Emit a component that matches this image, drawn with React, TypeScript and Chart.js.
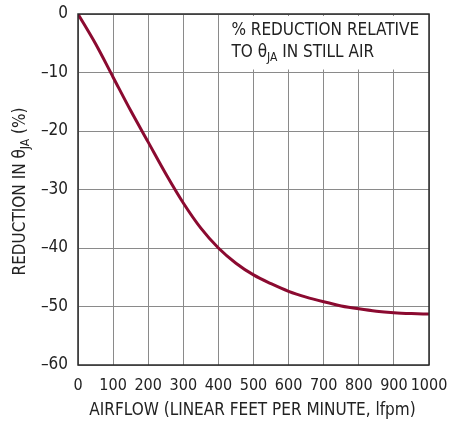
import React, { useEffect, useRef } from "react";
import { Chart, registerables } from "chart.js";

Chart.register(...registerables);

const airflow = [0, 50, 100, 150, 200, 250, 300, 350, 400, 450, 500, 550, 600, 650, 700, 750, 800, 850, 900, 950, 1000];
const reduction = [0, -5.1, -10.8, -16.5, -21.9, -27.3, -32.3, -36.6, -40.0, -42.6, -44.6, -46.1, -47.4, -48.4, -49.2, -49.9, -50.4, -50.8, -51.05, -51.2, -51.3];

const xTicks = [0, 100, 200, 300, 400, 500, 600, 700, 800, 900, 1000];
const yTicks = [0, -10, -20, -30, -40, -50, -60];

const xTitle = "AIRFLOW (LINEAR FEET PER MINUTE, lfpm)";
const yTitleParts = ["REDUCTION IN θ", "JA", " (%)"];
const noteLine1 = "% REDUCTION RELATIVE";
const noteLine2Parts = ["TO θ", "JA", " IN STILL AIR"];

const FONT = "'Liberation Sans Narrow', 'DejaVu Sans Condensed', 'Liberation Sans', sans-serif";
const FS = 17;
const TICK_FS = 16;
const CURVE = "#8b0a30";
const GRID = "#8a8a8a";
const FRAME = "#2a2a2a";
const TEXT = "#222222";

function drawSub(ctx: CanvasRenderingContext2D, parts: string[], x: number, y: number, size: number) {
  ctx.textAlign = "left";
  ctx.textBaseline = "middle";
  ctx.font = `${size}px ${FONT}`;
  ctx.fillText(parts[0], x, y);
  let cx = x + ctx.measureText(parts[0]).width;
  ctx.font = `${Math.round(size * 0.72)}px ${FONT}`;
  ctx.fillText(parts[1], cx, y + size * 0.3);
  cx += ctx.measureText(parts[1]).width;
  ctx.font = `${size}px ${FONT}`;
  ctx.fillText(parts[2], cx, y);
}

function widthSub(ctx: CanvasRenderingContext2D, parts: string[], size: number) {
  ctx.font = `${size}px ${FONT}`;
  let w = ctx.measureText(parts[0]).width + ctx.measureText(parts[2]).width;
  ctx.font = `${Math.round(size * 0.72)}px ${FONT}`;
  w += ctx.measureText(parts[1]).width;
  return w;
}

const decorPlugin = {
  id: "decor",
  beforeDatasetsDraw(chart: any) {
    const { ctx, chartArea } = chart;
    const xs = chart.scales.x;
    const ys = chart.scales.y;
    ctx.save();
    ctx.fillStyle = "#ffffff";
    const bx = xs.getPixelForValue(400) + 4;
    ctx.fillRect(bx, chartArea.top + 2, chartArea.right - bx - 2, ys.getPixelForValue(-10) - chartArea.top - 5);
    ctx.restore();
  },
  afterDraw(chart: any) {
    const { ctx, chartArea } = chart;
    const xs = chart.scales.x;
    ctx.save();
    ctx.strokeStyle = FRAME;
    ctx.lineWidth = 1.5;
    ctx.strokeRect(chartArea.left, chartArea.top, chartArea.right - chartArea.left, chartArea.bottom - chartArea.top);
    ctx.fillStyle = TEXT;
    const nx = xs.getPixelForValue(400) + 13;
    ctx.font = `${FS}px ${FONT}`;
    ctx.textAlign = "left";
    ctx.textBaseline = "middle";
    ctx.fillText(noteLine1, nx, chartArea.top + 17);
    drawSub(ctx, noteLine2Parts, nx, chartArea.top + 39, FS);
    ctx.font = `${FS}px ${FONT}`;
    ctx.textAlign = "center";
    ctx.textBaseline = "middle";
    ctx.fillText(xTitle, (chartArea.left + chartArea.right) / 2 - 1, 411);
    const w = widthSub(ctx, yTitleParts, FS);
    ctx.translate(21, (chartArea.top + chartArea.bottom) / 2 + 2);
    ctx.rotate(-Math.PI / 2);
    drawSub(ctx, yTitleParts, -w / 2, 0, FS);
    ctx.restore();
  },
};

export default function App() {
  const ref = useRef<HTMLCanvasElement | null>(null);
  useEffect(() => {
    if (!ref.current) return;
    const chart = new Chart(ref.current, {
      type: "line",
      data: {
        datasets: [
          {
            data: airflow.map((x, i) => ({ x, y: reduction[i] })),
            borderColor: CURVE,
            borderWidth: 3,
            pointRadius: 0,
            cubicInterpolationMode: "monotone",
            fill: false,
          },
        ],
      },
      options: {
        animation: false,
        responsive: false,
        maintainAspectRatio: false,
        layout: { padding: { top: 14, right: 21, left: 0, bottom: 0 } },
        plugins: { legend: { display: false }, tooltip: { enabled: false } },
        scales: {
          x: {
            type: "linear",
            min: 0,
            max: 1000,
            afterFit: (s: any) => { s.height = 56; s.paddingRight = 0; s.paddingLeft = 0; },
            afterBuildTicks: (s: any) => { s.ticks = xTicks.map((v) => ({ value: v })); },
            grid: { color: GRID, lineWidth: 1, drawTicks: false },
            border: { display: false },
            ticks: {
              padding: 11,
              color: TEXT,
              font: { family: FONT, size: TICK_FS },
              maxRotation: 0,
              autoSkip: false,
              callback: (v: any) => String(v),
            },
          },
          y: {
            type: "linear",
            min: -60,
            max: 0,
            afterFit: (s: any) => { s.width = 78; s.paddingTop = 0; s.paddingBottom = 0; },
            afterBuildTicks: (s: any) => { s.ticks = yTicks.map((v) => ({ value: v })); },
            grid: { color: GRID, lineWidth: 1, drawTicks: false },
            border: { display: false },
            ticks: {
              padding: 10,
              color: TEXT,
              font: { family: FONT, size: TICK_FS + 1 },
              callback: (v: any) => (Number(v) < 0 ? "–" + Math.abs(Number(v)) : String(v)),
              autoSkip: false,
            },
          },
        },
      },
      plugins: [decorPlugin],
    } as any);
    return () => chart.destroy();
  }, []);
  return (
    <div style={{ position: "fixed", left: 0, top: 0, width: 450, height: 421, background: "#fff" }}>
      <canvas ref={ref} width={450} height={421} style={{ width: 450, height: 421, display: "block" }} />
    </div>
  );
}
